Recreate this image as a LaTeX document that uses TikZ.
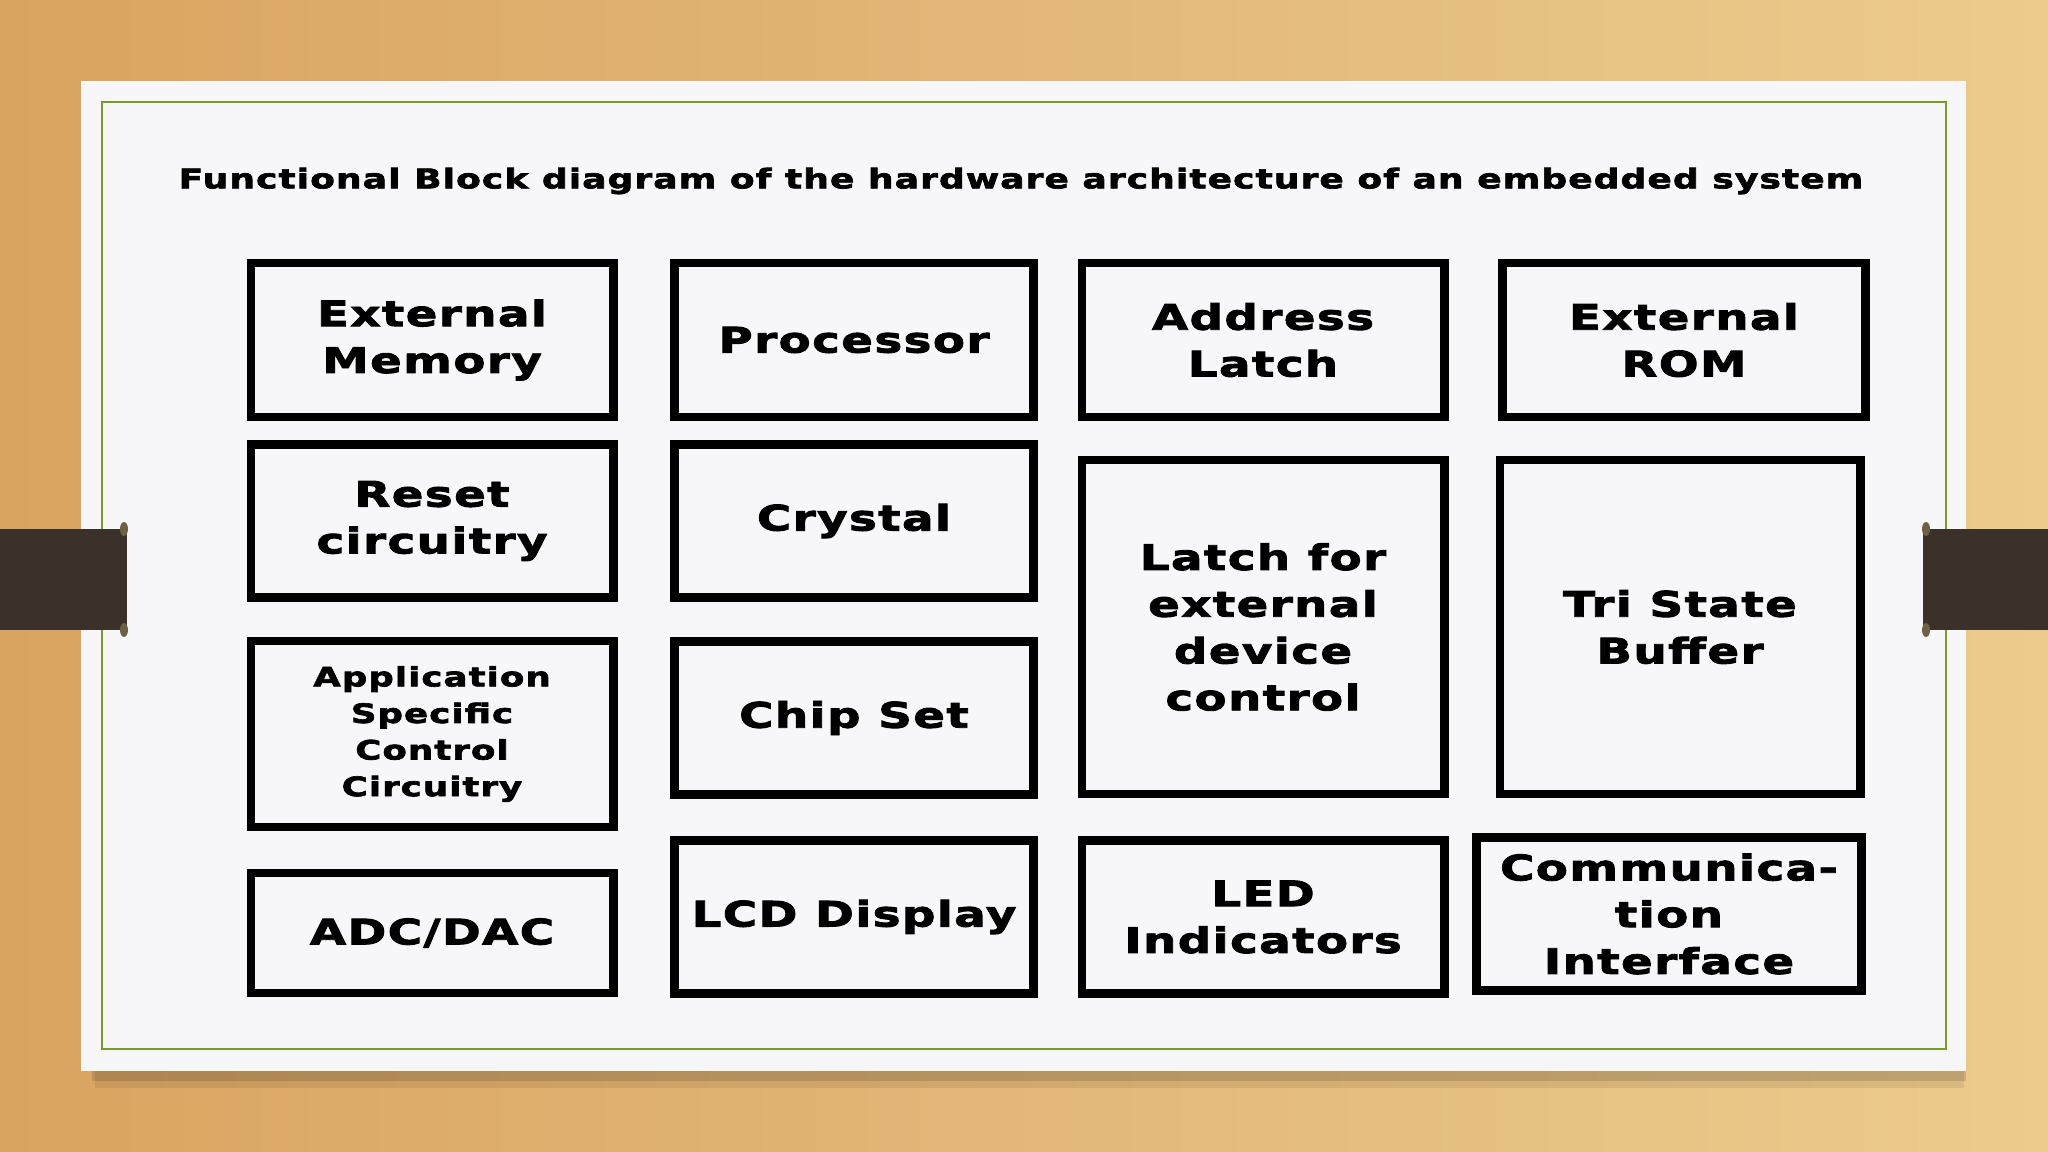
\documentclass[tikz,border=0pt]{standalone}
\usepackage{fontspec}
\newfontfamily\blockfont{DejaVu Sans}[FakeStretch=1.33, LetterSpace=4, FakeBold=2.5]
\usepackage{tikz}
\usetikzlibrary{positioning}
\definecolor{wooddark}{HTML}{D9A462}
\definecolor{woodlight}{HTML}{ECCB8D}
\definecolor{cardwhite}{HTML}{F7F7F9}
\definecolor{framegreen}{HTML}{7A9A2A}
\definecolor{tabbrown}{HTML}{3A312A}
\definecolor{tabnub}{HTML}{6E6143}
\tikzset{
    block/.style={rectangle, draw=black, fill=cardwhite, line width=2.5pt,
                  align=center, inner sep=2pt,
                  font=\blockfont\bfseries\fontsize{10}{13.3}\selectfont},
    smallblock/.style={block, font=\blockfont\bfseries\fontsize{7.6}{10.4}\selectfont},
    heading/.style={font=\blockfont\bfseries\fontsize{7.7}{8}\selectfont, inner sep=0pt}
}

\begin{document}
\begin{tikzpicture}[x=0.01cm, y=-0.01cm]
  \useasboundingbox (0,0) rectangle (2048,1152);

  % --- background ---
  \shade[left color=wooddark, right color=woodlight] (0,0) rectangle (2048,1152);
  \fill[tabbrown] (0,529) rectangle (127,630);
  \fill[tabbrown] (1923,529) rectangle (2048,630);

  % --- card ---
  \fill[black, opacity=0.08] (95,1071) rectangle (1964,1088);
  \fill[black, opacity=0.12] (92,1071) rectangle (1966,1081);
  \fill[cardwhite] (81,81) rectangle (1966,1071);
  \draw[framegreen, line width=0.6pt] (102,102) rectangle (1946,1049);
  \fill[tabbrown] (81,529) rectangle (127,630);
  \fill[tabbrown] (1923,529) rectangle (1966,630);
  \fill[tabnub] (124,529) ellipse [x radius=4, y radius=7];
  \fill[tabnub] (124,630) ellipse [x radius=4, y radius=7];
  \fill[tabnub] (1926,529) ellipse [x radius=4, y radius=7];
  \fill[tabnub] (1926,630) ellipse [x radius=4, y radius=7];

  % --- title ---
  \node[heading] (title) at (1021,181)
        {Functional Block diagram of the hardware architecture of an embedded system};

  % --- column 1 ---
  \node[block, minimum width=3.62cm, minimum height=1.54cm] (extmem) at (432,340)
        {External\\Memory};
  \node[block, minimum width=3.62cm, minimum height=1.53cm] (reset) at (432,521)
        {Reset\\circuitry};
  \node[smallblock, minimum width=3.62cm, minimum height=1.86cm] (asic) at (432,734)
        {Application\\Specific\\Control\\Circuitry};
  \node[block, minimum width=3.62cm, minimum height=1.20cm] (adc) at (432,933)
        {ADC/DAC};

  % --- column 2 ---
  \node[block, minimum width=3.59cm, minimum height=1.54cm] (proc) at (854,340)
        {Processor};
  \node[block, minimum width=3.59cm, minimum height=1.53cm] (crystal) at (854,521)
        {Crystal};
  \node[block, minimum width=3.59cm, minimum height=1.53cm] (chipset) at (854,718)
        {Chip Set};
  \node[block, minimum width=3.59cm, minimum height=1.53cm] (lcd) at (854,917)
        {LCD Display};

  % --- column 3 ---
  \node[block, minimum width=3.62cm, minimum height=1.54cm] (addrlatch) at (1263,340)
        {Address\\Latch};
  \node[block, minimum width=3.62cm, minimum height=3.34cm] (latch) at (1263,627)
        {Latch for\\external\\device\\control};
  \node[block, minimum width=3.62cm, minimum height=1.53cm] (led) at (1263,917)
        {LED\\Indicators};

  % --- column 4 ---
  \node[block, minimum width=3.63cm, minimum height=1.54cm] (extrom) at (1684,340)
        {External\\ROM};
  \node[block, minimum width=3.60cm, minimum height=3.34cm] (tristate) at (1680,627)
        {Tri State\\Buffer};
  \node[block, minimum width=3.85cm, minimum height=1.53cm] (comm) at (1669,914)
        {Communica-\\tion\\Interface};

\end{tikzpicture}
\end{document}
